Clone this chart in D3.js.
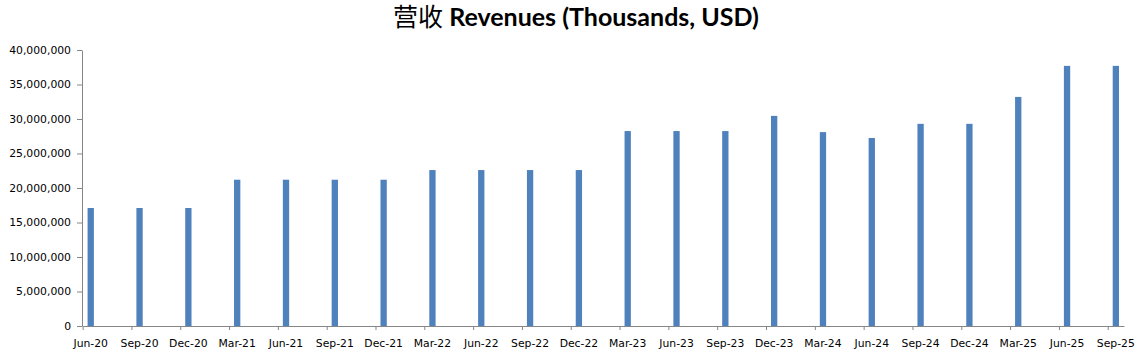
<!DOCTYPE html>
<html><head><meta charset="utf-8">
<script src="https://cdn.jsdelivr.net/npm/d3@7"></script>
<style>
body{margin:0;background:#fff;}
svg{display:block;}
</style></head>
<body>
<svg id="chart" width="1147" height="361"></svg>
<script>
const categories = ["Jun-20","Sep-20","Dec-20","Mar-21","Jun-21","Sep-21","Dec-21","Mar-22","Jun-22","Sep-22","Dec-22","Mar-23","Jun-23","Sep-23","Dec-23","Mar-24","Jun-24","Sep-24","Dec-24","Mar-25","Jun-25","Sep-25"];
const revenues = [17100000,17100000,17100000,21200000,21200000,21200000,21200000,22600000,22600000,22600000,22600000,28250000,28250000,28250000,30450000,28100000,27250000,29300000,29300000,33200000,37700000,37700000];
const yTicks = [0,5000000,10000000,15000000,20000000,25000000,30000000,35000000,40000000];
const titleText = ["营收", " Revenues (Thousands, USD)"];

const monthNames = ["Jan","Feb","Mar","Apr","May","Jun","Jul","Aug","Sep","Oct","Nov","Dec"];
function monthIndex(c){
  const [m, yy] = c.split("-");
  return (+yy - 20) * 12 + monthNames.indexOf(m) - 5;
}
const data = categories.map((c,i)=>({c, v:revenues[i], m:monthIndex(c)}));
const lastM = d3.max(data, d=>d.m) + 1;

const svg = d3.select("#chart");
const x = d3.scaleLinear().domain([0, lastM]).range([82.6, 1124]);
const y = d3.scaleLinear().domain([0, 40000000]).range([326, 50]);
const barW = 6.3;
const axisColor = "#868686";
const font = "'DejaVu Sans', sans-serif";

// title
const t = svg.append("text").attr("x", 576).attr("y", 25.5).attr("text-anchor","middle")
  .attr("fill","#000");
t.append("tspan").attr("font-family","'Noto Sans CJK SC', sans-serif").attr("font-size",25).attr("font-weight",400).text(titleText[0]);
t.append("tspan").attr("font-family","Lato, sans-serif").attr("font-size",25).attr("font-weight",700).text(titleText[1]);

// bars
svg.append("g").selectAll("rect").data(data).join("rect")
  .attr("x", d => x(d.m + 0.5) - barW/2)
  .attr("width", barW)
  .attr("y", d => y(d.v))
  .attr("height", d => y(0) - y(d.v))
  .attr("fill", "#4F81BD");

// y axis
const ya = svg.append("g").attr("transform","translate(82,0)")
  .call(d3.axisLeft(y).tickValues(yTicks).tickFormat(d3.format(",")).tickSize(5).tickSizeOuter(0).tickPadding(6));
ya.select(".domain").attr("stroke", axisColor);
ya.selectAll(".tick line").attr("stroke", axisColor);
ya.selectAll(".tick text").attr("font-family", font).attr("font-size", 10.8).attr("fill","#000");

// x axis
const xa = svg.append("g").attr("transform","translate(0,326)")
  .call(d3.axisBottom(x).tickValues(data.map(d=>d.m)).tickFormat("").tickSize(4).tickSizeOuter(0));
xa.select(".domain").attr("stroke", axisColor);
xa.selectAll(".tick line").attr("stroke", axisColor);

svg.append("g").selectAll("text").data(data).join("text")
  .attr("x", d => x(d.m + 0.5))
  .attr("y", 346.5)
  .attr("text-anchor","middle")
  .attr("font-family", font).attr("font-size", 10.8).attr("fill","#000")
  .text(d => d.c);
</script>
</body></html>
